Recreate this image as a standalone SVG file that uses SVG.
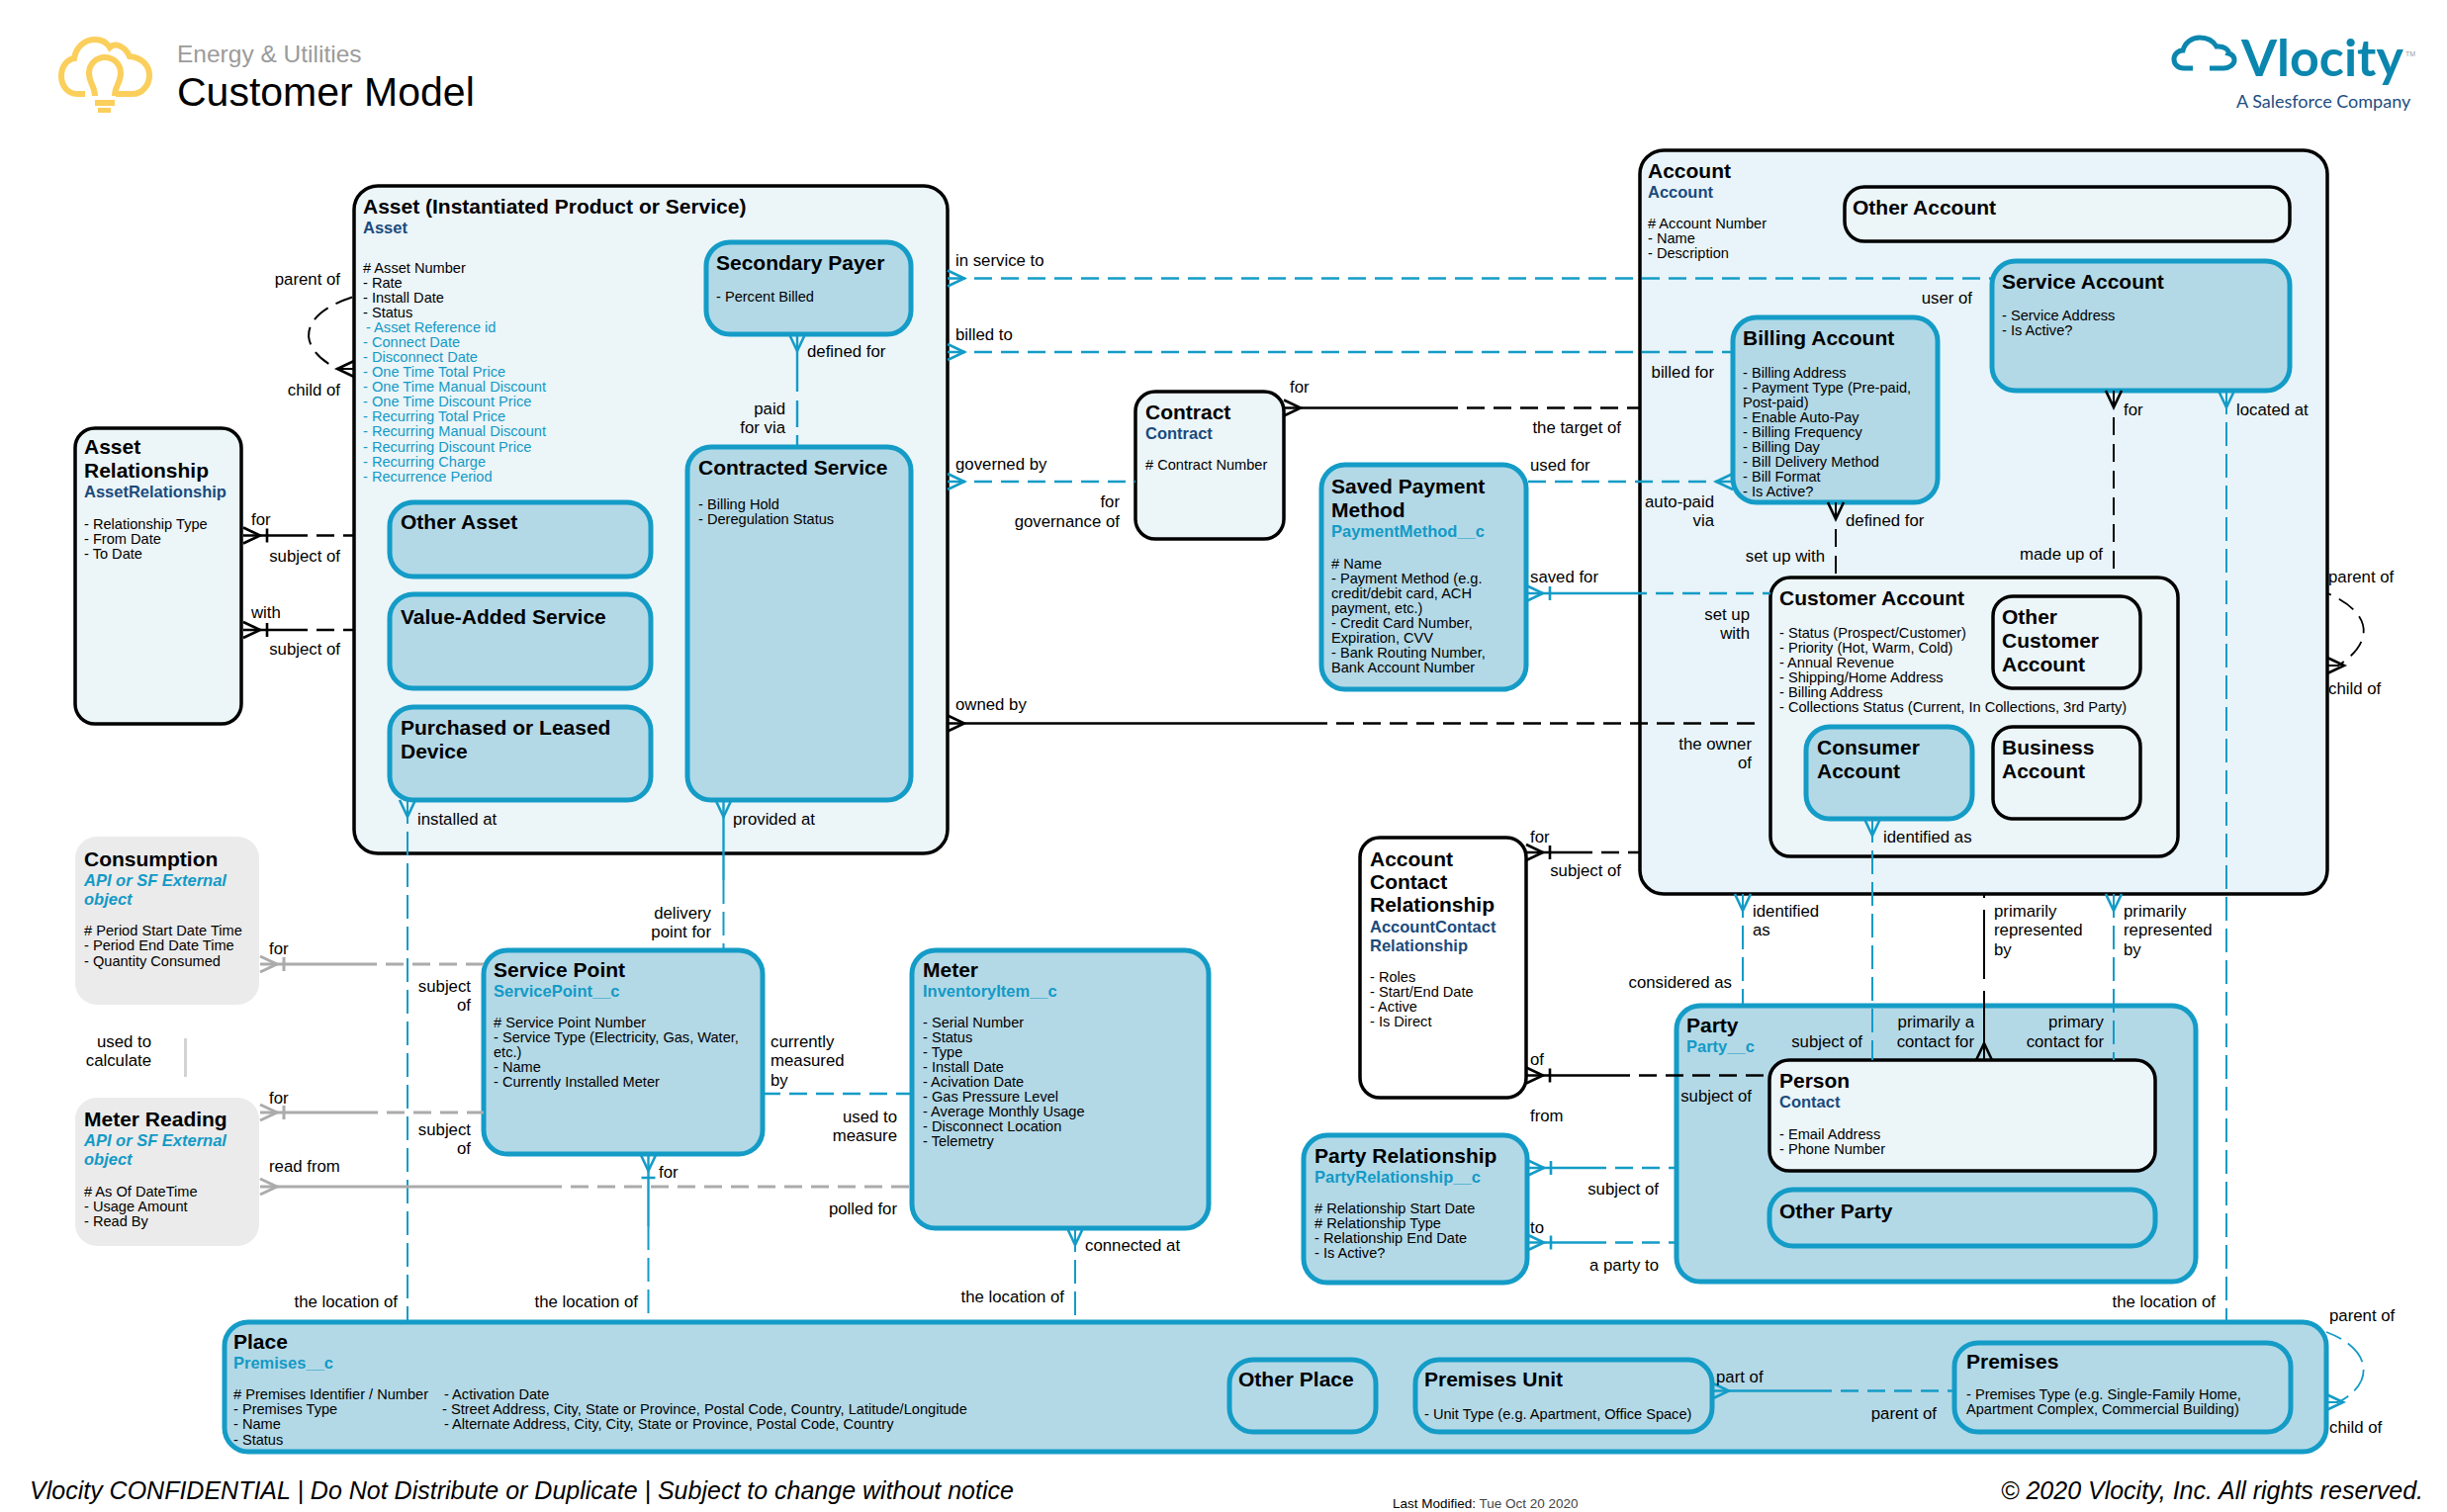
<svg xmlns="http://www.w3.org/2000/svg" width="2474" height="1529" viewBox="0 0 2474 1529">
<style>
text{font-family:"Liberation Sans",Arial,sans-serif;fill:#000}
.t{font-size:21px;font-weight:700}
.s{font-size:16.5px;font-weight:700;fill:#1A4A7C}
.sc{font-size:16.5px;font-weight:700;fill:#139AC6}
.si{font-size:16.5px;font-weight:700;font-style:italic;fill:#139AC6}
.a{font-size:14.6px}
.ac{font-size:14.6px;fill:#139AC6}
.l{font-size:16.8px}
.r{font-size:16.8px;text-anchor:end}
rect.p{fill:#ECF5F8;stroke:#000;stroke-width:3.5;rx:24px}
rect.q{fill:#ECF5F8;stroke:#000;stroke-width:3.5;rx:20px}
rect.w{fill:#fff;stroke:#000;stroke-width:3.5;rx:20px}
rect.c{fill:#B3D9E7;stroke:#149CC7;stroke-width:5;rx:24px}
rect.e{fill:#EBEBEB;stroke:none;rx:22px}
path{fill:none}
.k,.kd{stroke:#000;stroke-width:2.4}
.b,.bd{stroke:#149CC7;stroke-width:2.4}
.g,.gd{stroke:#ABABAB;stroke-width:3}
.kd,.bd,.gd{stroke-dasharray:18 9}
.kl{stroke:#000;stroke-width:2;stroke-dasharray:18 9}
.bl{stroke:#149CC7;stroke-width:2;stroke-dasharray:24 8}
.fk{marker-start:url(#ck)}.fb{marker-start:url(#cb)}.fg{marker-start:url(#cg)}
.tk{marker-start:url(#tk)}.tb{marker-start:url(#tb)}.tg{marker-start:url(#tg)}
</style>
<defs>
<marker id="ck" markerUnits="userSpaceOnUse" markerWidth="40" markerHeight="30" refX="1" refY="15" orient="auto" overflow="visible"><path d="M1 7 L18 15 L1 23" stroke="#000" stroke-width="2.6"/></marker>
<marker id="cb" markerUnits="userSpaceOnUse" markerWidth="40" markerHeight="30" refX="1" refY="15" orient="auto" overflow="visible"><path d="M1 7 L18 15 L1 23" stroke="#149CC7" stroke-width="2.6"/></marker>
<marker id="cg" markerUnits="userSpaceOnUse" markerWidth="40" markerHeight="30" refX="1" refY="15" orient="auto" overflow="visible"><path d="M1 7 L18 15 L1 23" stroke="#ABABAB" stroke-width="3"/></marker>
<marker id="tk" markerUnits="userSpaceOnUse" markerWidth="40" markerHeight="30" refX="1" refY="15" orient="auto" overflow="visible"><path d="M1 7 L18 15 L1 23 M25 8 V22" stroke="#000" stroke-width="2.6"/></marker>
<marker id="tb" markerUnits="userSpaceOnUse" markerWidth="40" markerHeight="30" refX="1" refY="15" orient="auto" overflow="visible"><path d="M1 7 L18 15 L1 23 M25 8 V22" stroke="#149CC7" stroke-width="2.6"/></marker>
<marker id="tg" markerUnits="userSpaceOnUse" markerWidth="40" markerHeight="30" refX="1" refY="15" orient="auto" overflow="visible"><path d="M1 7 L18 15 L1 23 M25 8 V22" stroke="#ABABAB" stroke-width="3"/></marker>
</defs>
<rect width="2474" height="1529" fill="#fff"/>
<g id="header">
<path d="M86 95 H78 C68 95 62 86 62 77 C62 67 68 60 75 59 C77 47 86 40 96 40 C103 40 108 43 111 48 C116 43 126 46 131 57 C143 58 151 66 151 76 C151 87 143 95 134 95 H117" stroke="#FBCF5C" stroke-width="6"/>
<path d="M96 97 C96 87 90 84 90 74 C90 65 97 58 106 58 C115 58 122 65 122 74 C122 84 116 87 116 97" stroke="#FBCF5C" stroke-width="6"/>
<rect x="96" y="101" width="20" height="6" fill="#FBCF5C"/><rect x="99" y="109" width="13" height="5" fill="#FBCF5C"/>
<text x="179" y="63" style="font-size:24.5px;fill:#9B9B9B">Energy &amp; Utilities</text>
<text x="179" y="107" style="font-size:41px">Customer Model</text>
<path d="M2217 69 H2208 C2202 69 2198 65 2198 60 C2198 55 2202 51 2207 51 C2209 43 2216 38 2224 38 C2232 38 2238 42 2241 47 C2250 46 2254 52 2253 54 C2257 55 2259 58 2259 61 C2259 65 2254 69 2248 69 H2234" stroke="#0B86AE" stroke-width="5"/>
<path d="M2226 58 H2235 L2231 68 H2238 L2225 93 L2228 76 H2220 Z" fill="#0B86AE"/>
<text x="2266" y="77" style="font-family:Lato,sans-serif;font-size:52px;font-weight:700;fill:#0B86AE">Vlocity</text>
<text x="2432" y="57" style="font-size:7px;fill:#9B9B9B">TM</text>
<text x="2261" y="109" style="font-family:Lato,sans-serif;font-size:18px;fill:#1C4E80">A Salesforce Company</text>
</g>

<g id="asset-relationship"><rect class="q" x="76" y="433" width="168" height="299"/>
<text class="t" x="85" y="459">Asset</text><text class="t" x="85" y="483">Relationship</text><text class="s" x="85" y="503">AssetRelationship</text>
<text class="a" x="85" y="535">- Relationship Type</text><text class="a" x="85" y="550">- From Date</text><text class="a" x="85" y="565">- To Date</text></g>

<g id="asset"><rect class="p" x="358" y="188" width="600" height="675"/>
<text class="t" x="367" y="216">Asset (Instantiated Product or Service)</text><text class="s" x="367" y="236">Asset</text>
<text class="a" x="367" y="276">
<tspan x="367" y="276"># Asset Number</tspan><tspan x="367" y="291">- Rate</tspan><tspan x="367" y="306">- Install Date</tspan><tspan x="367" y="321">- Status</tspan></text>
<text class="ac"><tspan x="370" y="336">- Asset Reference id</tspan><tspan x="367" y="351">- Connect Date</tspan><tspan x="367" y="366">- Disconnect Date</tspan><tspan x="367" y="381">- One Time Total Price</tspan><tspan x="367" y="396">- One Time Manual Discount</tspan><tspan x="367" y="411">- One Time Discount Price</tspan><tspan x="367" y="426">- Recurring Total Price</tspan><tspan x="367" y="441">- Recurring Manual Discount</tspan><tspan x="367" y="457">- Recurring Discount Price</tspan><tspan x="367" y="472">- Recurring Charge</tspan><tspan x="367" y="487">- Recurrence Period</tspan></text></g>

<g id="secondary-payer"><rect class="c" x="714" y="245" width="207" height="93"/><text class="t" x="724" y="273">Secondary Payer</text><text class="a" x="724" y="305">- Percent Billed</text></g>
<g id="contracted-service"><rect class="c" x="695" y="452" width="226" height="357"/><text class="t" x="706" y="480">Contracted Service</text><text class="a" x="706" y="515">- Billing Hold</text><text class="a" x="706" y="530">- Deregulation Status</text></g>
<g id="other-asset"><rect class="c" x="394" y="508" width="264" height="75"/><text class="t" x="405" y="535">Other Asset</text></g>
<g id="value-added-service"><rect class="c" x="394" y="601" width="264" height="95"/><text class="t" x="405" y="631">Value-Added Service</text></g>
<g id="purchased-device"><rect class="c" x="394" y="715" width="264" height="94"/><text class="t" x="405" y="743">Purchased or Leased</text><text class="t" x="405" y="767">Device</text></g>

<g id="consumption"><rect class="e" x="76" y="846" width="186" height="170"/><text class="t" x="85" y="876">Consumption</text><text class="si" x="85" y="896">API or SF External</text><text class="si" x="85" y="915">object</text>
<text class="a" x="85" y="946"># Period Start Date Time</text><text class="a" x="85" y="961">- Period End Date Time</text><text class="a" x="85" y="977">- Quantity Consumed</text></g>
<g id="meter-reading"><rect class="e" x="76" y="1110" width="186" height="150"/><text class="t" x="85" y="1139">Meter Reading</text><text class="si" x="85" y="1159">API or SF External</text><text class="si" x="85" y="1178">object</text>
<text class="a" x="85" y="1210"># As Of DateTime</text><text class="a" x="85" y="1225">- Usage Amount</text><text class="a" x="85" y="1240">- Read By</text></g>

<g id="service-point"><rect class="c" x="489" y="961" width="282" height="206"/><text class="t" x="499" y="988">Service Point</text><text class="sc" x="499" y="1008">ServicePoint__c</text>
<text class="a"><tspan x="499" y="1039"># Service Point Number</tspan><tspan x="499" y="1054">- Service Type (Electricity, Gas, Water,</tspan><tspan x="499" y="1069">etc.)</tspan><tspan x="499" y="1084">- Name</tspan><tspan x="499" y="1099">- Currently Installed Meter</tspan></text></g>
<g id="meter"><rect class="c" x="922" y="961" width="300" height="281"/><text class="t" x="933" y="988">Meter</text><text class="sc" x="933" y="1008">InventoryItem__c</text>
<text class="a"><tspan x="933" y="1039">- Serial Number</tspan><tspan x="933" y="1054">- Status</tspan><tspan x="933" y="1069">- Type</tspan><tspan x="933" y="1084">- Install Date</tspan><tspan x="933" y="1099">- Acivation Date</tspan><tspan x="933" y="1114">- Gas Pressure Level</tspan><tspan x="933" y="1129">- Average Monthly Usage</tspan><tspan x="933" y="1144">- Disconnect Location</tspan><tspan x="933" y="1159">- Telemetry</tspan></text></g>

<g id="place"><rect class="c" x="227" y="1337" width="2125" height="131"/><text class="t" x="236" y="1364">Place</text><text class="sc" x="236" y="1384">Premises__c</text>
<text class="a"><tspan x="236" y="1415"># Premises Identifier / Number</tspan><tspan x="236" y="1430">- Premises Type</tspan><tspan x="236" y="1445">- Name</tspan><tspan x="236" y="1461">- Status</tspan></text>
<text class="a"><tspan x="449" y="1415">- Activation Date</tspan><tspan x="447" y="1430">- Street Address, City, State or Province, Postal Code, Country, Latitude/Longitude</tspan><tspan x="449" y="1445">- Alternate Address, City, City, State or Province, Postal Code, Country</tspan></text></g>
<g id="other-place"><rect class="c" x="1243" y="1375" width="148" height="73"/><text class="t" x="1252" y="1402">Other Place</text></g>
<g id="premises-unit"><rect class="c" x="1431" y="1375" width="300" height="73"/><text class="t" x="1440" y="1402">Premises Unit</text><text class="a" x="1440" y="1435">- Unit Type (e.g. Apartment, Office Space)</text></g>
<g id="premises"><rect class="c" x="1976" y="1358" width="340" height="90"/><text class="t" x="1988" y="1384">Premises</text><text class="a" x="1988" y="1415">- Premises Type (e.g. Single-Family Home,</text><text class="a" x="1988" y="1430">Apartment Complex, Commercial Building)</text></g>

<g id="contract"><rect class="q" x="1148" y="396" width="150" height="149"/><text class="t" x="1158" y="424">Contract</text><text class="s" x="1158" y="444">Contract</text><text class="a" x="1158" y="475"># Contract Number</text></g>
<g id="saved-payment-method"><rect class="c" x="1336" y="470" width="207" height="227"/><text class="t" x="1346" y="499">Saved Payment</text><text class="t" x="1346" y="523">Method</text><text class="sc" x="1346" y="543">PaymentMethod__c</text>
<text class="a"><tspan x="1346" y="575"># Name</tspan><tspan x="1346" y="590">- Payment Method (e.g.</tspan><tspan x="1346" y="605">credit/debit card, ACH</tspan><tspan x="1346" y="620">payment, etc.)</tspan><tspan x="1346" y="635">- Credit Card Number,</tspan><tspan x="1346" y="650">Expiration, CVV</tspan><tspan x="1346" y="665">- Bank Routing Number,</tspan><tspan x="1346" y="680">Bank Account Number</tspan></text></g>

<g id="account"><rect class="p" x="1658" y="152" width="695" height="752" style="fill:#E8F4F9"/><text class="t" x="1666" y="180">Account</text><text class="s" x="1666" y="200">Account</text>
<text class="a"><tspan x="1666" y="231"># Account Number</tspan><tspan x="1666" y="246">- Name</tspan><tspan x="1666" y="261">- Description</tspan></text></g>
<g id="other-account"><rect class="q" x="1865" y="189" width="450" height="55"/><text class="t" x="1873" y="217">Other Account</text></g>
<g id="service-account"><rect class="c" x="2014" y="264" width="301" height="131"/><text class="t" x="2024" y="292">Service Account</text><text class="a" x="2024" y="324">- Service Address</text><text class="a" x="2024" y="339">- Is Active?</text></g>
<g id="billing-account"><rect class="c" x="1752" y="321" width="207" height="187"/><text class="t" x="1762" y="349">Billing Account</text>
<text class="a"><tspan x="1762" y="382">- Billing Address</tspan><tspan x="1762" y="397">- Payment Type (Pre-paid,</tspan><tspan x="1762" y="412">Post-paid)</tspan><tspan x="1762" y="427">- Enable Auto-Pay</tspan><tspan x="1762" y="442">- Billing Frequency</tspan><tspan x="1762" y="457">- Billing Day</tspan><tspan x="1762" y="472">- Bill Delivery Method</tspan><tspan x="1762" y="487">- Bill Format</tspan><tspan x="1762" y="502">- Is Active?</tspan></text></g>
<g id="customer-account"><rect class="q" x="1790" y="584" width="412" height="282"/><text class="t" x="1799" y="612">Customer Account</text>
<text class="a"><tspan x="1799" y="645">- Status (Prospect/Customer)</tspan><tspan x="1799" y="660">- Priority (Hot, Warm, Cold)</tspan><tspan x="1799" y="675">- Annual Revenue</tspan><tspan x="1799" y="690">- Shipping/Home Address</tspan><tspan x="1799" y="705">- Billing Address</tspan><tspan x="1799" y="720">- Collections Status (Current, In Collections, 3rd Party)</tspan></text></g>
<g id="other-customer-account"><rect class="q" x="2015" y="603" width="149" height="93"/><text class="t" x="2024" y="631">Other</text><text class="t" x="2024" y="655">Customer</text><text class="t" x="2024" y="679">Account</text></g>
<g id="consumer-account"><rect class="c" x="1826" y="735" width="168" height="93"/><text class="t" x="1837" y="763">Consumer</text><text class="t" x="1837" y="787">Account</text></g>
<g id="business-account"><rect class="q" x="2015" y="735" width="149" height="93"/><text class="t" x="2024" y="763">Business</text><text class="t" x="2024" y="787">Account</text></g>

<g id="account-contact-relationship"><rect class="w" x="1375" y="847" width="168" height="263"/><text class="t" x="1385" y="876">Account</text><text class="t" x="1385" y="899">Contact</text><text class="t" x="1385" y="922">Relationship</text><text class="s" x="1385" y="943">AccountContact</text><text class="s" x="1385" y="962">Relationship</text>
<text class="a"><tspan x="1385" y="993">- Roles</tspan><tspan x="1385" y="1008">- Start/End Date</tspan><tspan x="1385" y="1023">- Active</tspan><tspan x="1385" y="1038">- Is Direct</tspan></text></g>
<g id="party"><rect class="c" x="1695" y="1017" width="525" height="279"/><text class="t" x="1705" y="1044">Party</text><text class="sc" x="1705" y="1064">Party__c</text></g>
<g id="person"><rect class="q" x="1789" y="1072" width="390" height="112"/><text class="t" x="1799" y="1100">Person</text><text class="s" x="1799" y="1120">Contact</text><text class="a" x="1799" y="1152">- Email Address</text><text class="a" x="1799" y="1167">- Phone Number</text></g>
<g id="other-party"><rect class="c" x="1789" y="1203" width="390" height="57"/><text class="t" x="1799" y="1232">Other Party</text></g>
<g id="party-relationship"><rect class="c" x="1318" y="1148" width="226" height="149"/><text class="t" x="1329" y="1176">Party Relationship</text><text class="sc" x="1329" y="1196">PartyRelationship__c</text>
<text class="a"><tspan x="1329" y="1227"># Relationship Start Date</tspan><tspan x="1329" y="1242"># Relationship Type</tspan><tspan x="1329" y="1257">- Relationship End Date</tspan><tspan x="1329" y="1272">- Is Active?</tspan></text></g>

<g id="connectors">
<path class="k tk" d="M246 541.5 H293"/><path class="kd" d="M293 541.5 H358"/>
<path class="k tk" d="M246 637 H293"/><path class="kd" d="M293 637 H358"/>
<path class="kl fk" d="M358 373 H341 C300 352 300 318 358 300"/>
<path class="b fb" d="M806 338 V396"/><path class="bd" d="M806 405 V452" style="stroke-dasharray:27 8"/>
<path class="bd fb" d="M958 281.5 H2014"/>
<path class="bd fb" d="M958 356 H1752"/>
<path class="bd fb" d="M958 487 H1148"/>
<path class="k fk" d="M1298 412.5 H1456"/><path class="kd" d="M1456 412.5 H1658"/>
<path class="bd fb" d="M1752 487 H1543"/>
<path class="b tb" d="M1543 600 H1647"/><path class="bd" d="M1647 600 H1790"/>
<path class="k fk" d="M958 731.5 H1324"/><path class="kd" d="M1324 731.5 H1782"/>
<path class="kl fk" d="M1856 508 V584"/>
<path class="kl fk" d="M2137 395 V584"/>
<path class="bl fb" d="M2251 395 V1337"/>
<path class="kl fk" d="M2353 673 H2364 C2400 650 2400 620 2353 600" style="stroke-width:1.8"/>
<path class="bl fb" d="M1893 828 V1072"/>
<path class="bl fb" d="M1762 904 V1017"/>
<path class="kl fk" d="M2006 1072 V904" style="stroke-dasharray:70 12"/>
<path class="bl fb" d="M2137 904 V1072"/>
<path class="k tk" d="M1543 862 H1592"/><path class="kd" d="M1592 862 H1658"/>
<path class="k tk" d="M1543 1087.5 H1630"/><path class="kd" d="M1630 1087.5 H1789"/>
<path class="b tb" d="M1544 1181 H1606"/><path class="bd" d="M1606 1181 H1695"/>
<path class="b tb" d="M1544 1256.5 H1606"/><path class="bd" d="M1606 1256.5 H1695"/>
<path class="b fb" d="M1731 1406.5 H1834"/><path class="bd" d="M1834 1406.5 H1976"/>
<path class="bl fb" d="M2352 1418 H2364 C2400 1400 2400 1365 2352 1347" style="stroke-width:1.8"/>
<path class="bl fb" d="M412 809 V1337"/>
<path class="b fb" d="M731.5 809 V890"/><path class="bl" d="M731.5 890 V961"/>
<path class="g tg" d="M263 975 H363"/><path class="gd" d="M363 975 H489"/>
<path class="g tg" d="M263 1125 H364"/><path class="gd" d="M364 1125 H489"/>
<path class="g fg" d="M263 1200 H550"/><path class="gd" d="M550 1200 H922"/>
<path d="M187.5 1089 V1050" stroke="#D3D3D3" stroke-width="3"/><path d="M187.5 1033 L196 1056 H179 Z" fill="#D3D3D3"/>
<path class="bd" d="M771 1106 H922"/>
<path class="b tb" d="M655.5 1167 V1240"/><path class="bl" d="M655.5 1240 V1337"/>
<path class="bl fb" d="M1087 1242 V1337"/>
<text class="r" x="344" y="288">parent of</text><text class="r" x="344" y="400">child of</text>
<text class="l" x="816" y="361">defined for</text><text class="r" x="794" y="419">paid</text><text class="r" x="794" y="438">for via</text>
<text class="l" x="254" y="531">for</text><text class="r" x="344" y="568">subject of</text><text class="l" x="254" y="625">with</text><text class="r" x="344" y="662">subject of</text>
<text class="l" x="966" y="269">in service to</text><text class="l" x="966" y="344">billed to</text><text class="l" x="966" y="475">governed by</text><text class="l" x="966" y="718">owned by</text>
<text class="l" x="422" y="834">installed at</text><text class="l" x="741" y="834">provided at</text>
<text class="r" x="719" y="929">delivery</text><text class="r" x="719" y="948">point for</text>
<text class="l" x="272" y="965">for</text><text class="r" x="476" y="1003">subject</text><text class="r" x="476" y="1022">of</text>
<text class="r" x="153" y="1059">used to</text><text class="r" x="153" y="1078">calculate</text>
<text class="l" x="779" y="1059">currently</text><text class="l" x="779" y="1078">measured</text><text class="l" x="779" y="1098">by</text>
<text class="l" x="272" y="1116">for</text><text class="r" x="476" y="1148">subject</text><text class="r" x="476" y="1167">of</text>
<text class="r" x="907" y="1135">used to</text><text class="r" x="907" y="1154">measure</text><text class="l" x="272" y="1185">read from</text><text class="r" x="907" y="1228">polled for</text>
<text class="l" x="666" y="1191">for</text><text class="l" x="1097" y="1265">connected at</text>
<text class="r" x="402" y="1322">the location of</text><text class="r" x="645" y="1322">the location of</text><text class="r" x="1076" y="1317">the location of</text><text class="r" x="2240" y="1322">the location of</text>
<text class="r" x="1994" y="307">user of</text><text class="r" x="1733" y="382">billed for</text><text class="l" x="1304" y="397">for</text><text class="r" x="1639" y="438">the target of</text><text class="l" x="1547" y="476">used for</text>
<text class="r" x="1132" y="513">for</text><text class="r" x="1132" y="533">governance of</text><text class="r" x="1733" y="513">auto-paid</text><text class="r" x="1733" y="532">via</text><text class="l" x="1866" y="532">defined for</text>
<text class="l" x="2147" y="420">for</text><text class="l" x="2261" y="420">located at</text>
<text class="r" x="1845" y="568">set up with</text><text class="r" x="2126" y="566">made up of</text><text class="l" x="2354" y="589">parent of</text><text class="l" x="2354" y="702">child of</text>
<text class="l" x="1547" y="589">saved for</text><text class="r" x="1769" y="627">set up</text><text class="r" x="1769" y="646">with</text><text class="r" x="1771" y="758">the owner</text><text class="r" x="1771" y="777">of</text>
<text class="l" x="1904" y="852">identified as</text><text class="l" x="1547" y="852">for</text><text class="r" x="1639" y="886">subject of</text>
<text class="l" x="1772" y="927">identified</text><text class="l" x="1772" y="946">as</text>
<text class="l" x="2016" y="927">primarily</text><text class="l" x="2016" y="946">represented</text><text class="l" x="2016" y="966">by</text>
<text class="l" x="2147" y="927">primarily</text><text class="l" x="2147" y="946">represented</text><text class="l" x="2147" y="966">by</text>
<text class="r" x="1751" y="999">considered as</text>
<text class="r" x="1883" y="1059">subject of</text><text class="r" x="1996" y="1039">primarily a</text><text class="r" x="1996" y="1059">contact for</text><text class="r" x="2127" y="1039">primary</text><text class="r" x="2127" y="1059">contact for</text>
<text class="l" x="1547" y="1077">of</text><text class="r" x="1771" y="1114">subject of</text><text class="l" x="1547" y="1134">from</text><text class="r" x="1677" y="1208">subject of</text><text class="l" x="1547" y="1247">to</text><text class="r" x="1677" y="1285">a party to</text>
<text class="l" x="2355" y="1336">parent of</text><text class="l" x="2355" y="1449">child of</text><text class="l" x="1735" y="1398">part of</text><text class="r" x="1958" y="1435">parent of</text>
</g>
<g id="footer">
<text x="30" y="1516" style="font-size:25px;font-style:italic">Vlocity CONFIDENTIAL | Do Not Distribute or Duplicate | Subject to change without notice</text>
<text x="2450" y="1516" style="font-size:25px;font-style:italic;text-anchor:end">© 2020 Vlocity, Inc. All rights reserved.</text>
<text x="1408" y="1525" style="font-size:13.5px">Last Modified: <tspan fill="#444">Tue Oct 20 2020</tspan></text>
</g>
</svg>
